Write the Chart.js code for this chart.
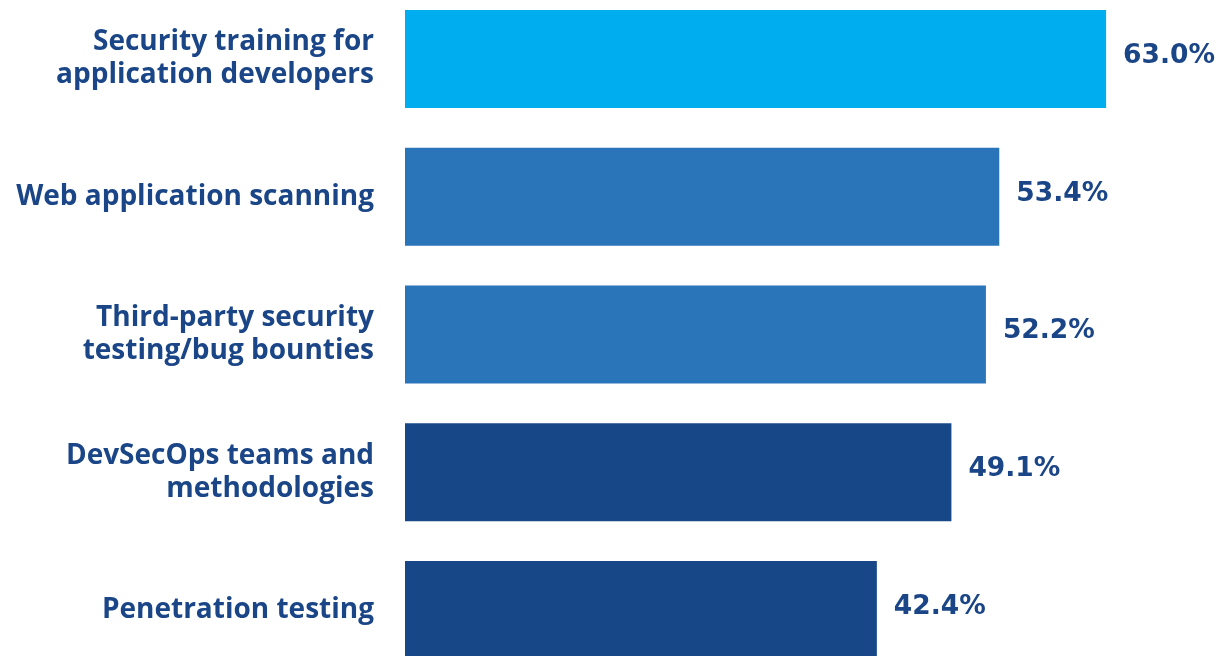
<!DOCTYPE html>
<html>
<head>
<meta charset="utf-8">
<script src="https://cdn.jsdelivr.net/npm/chart.js@4.4.1/dist/chart.umd.min.js"></script>
<style>
  html, body { margin: 0; padding: 0; background: #ffffff; overflow: hidden; }
  #wrap { position: absolute; left: 0; top: -10px; width: 1225px; height: 689px; }
</style>
</head>
<body>
<div id="wrap"><canvas id="c"></canvas></div>
<script>
const categories = [
  ["Security training for", "application developers"],
  ["Web application scanning"],
  ["Third-party security", "testing/bug bounties"],
  ["DevSecOps teams and", "methodologies"],
  ["Penetration testing"]
];
const values = [63.0, 53.4, 52.2, 49.1, 42.4];
const barColors = ["#00AEEF", "#2A74BA", "#2A74BA", "#174787", "#174787"];
const valueLabels = ["63.0%", "53.4%", "52.2%", "49.1%", "42.4%"];

const textColor = "#1A4587";
const fontFamily = "'Open Sans', 'Noto Sans', sans-serif";

const valueLabelPlugin = {
  id: 'valueLabels',
  afterDatasetsDraw(chart) {
    const ctx = chart.ctx;
    const meta = chart.getDatasetMeta(0);
    ctx.save();
    ctx.fillStyle = textColor;
    ctx.font = "700 26.5px 'DejaVu Sans', sans-serif";
    ctx.textAlign = 'left';
    ctx.textBaseline = 'middle';
    meta.data.forEach((bar, i) => {
      ctx.fillText(valueLabels[i], bar.x + 17, bar.y - 3);
    });
    ctx.restore();
  }
};

new Chart(document.getElementById('c'), {
  type: 'bar',
  data: {
    labels: categories,
    datasets: [{
      data: values,
      backgroundColor: barColors,
      borderWidth: 0,
      barPercentage: 0.711,
      categoryPercentage: 1.0
    }]
  },
  options: {
    indexAxis: 'y',
    responsive: true,
    maintainAspectRatio: false,
    animation: false,
    layout: { padding: { left: 0, right: 41, top: 0, bottom: 0 } },
    plugins: { legend: { display: false }, tooltip: { enabled: false } },
    scales: {
      x: { display: false, min: 0, max: 70 },
      y: {
        grid: { display: false },
        border: { display: false },
        ticks: {
          color: textColor,
          font: { family: fontFamily, size: 28, weight: '700', lineHeight: 1.18 },
          padding: 23,
          autoSkip: false
        },
        afterFit(scale) {
          scale.width = 405;
          scale.paddingTop = 0;
          scale.paddingBottom = 0;
        }
      }
    }
  },
  plugins: [valueLabelPlugin]
});
</script>
</body>
</html>
